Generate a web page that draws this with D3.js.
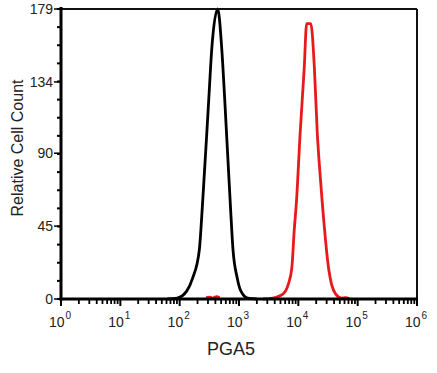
<!DOCTYPE html>
<html>
<head>
<meta charset="utf-8">
<script src="https://cdn.jsdelivr.net/npm/d3@7"></script>
<style>
	body { margin: 0; background: #fff; }
	text { font-family: "Liberation Sans", Arial, sans-serif; fill: #222; }
</style>
</head>
<body>
<svg id="chart" width="437" height="373"></svg>
<script>
// fluorescence intensity (PGA5) and relative cell count
var blackIntensity = [62, 91, 132, 166, 214, 245, 309, 347, 437, 513, 575, 708, 794, 933, 1072, 1413, 1995];
var blackCount     = [0, 0.6, 5, 13, 30, 61, 123, 154, 179, 154, 123, 61, 30, 13, 5, 0.5, 0];

var redIntensity = [2512, 3715, 5495, 6761, 7762, 8511, 9333, 10715, 12589, 13804, 16218, 18621, 20893, 22387, 25119, 32359, 36308, 42658, 53703, 61660, 74131];
var redCount     = [0, 0.6, 3, 9, 19, 42, 61, 102, 143, 170, 170, 143, 102, 85, 61, 19, 9, 3, 0.6, 0.8, 0];

// small red specks near the baseline under the black peak
var redNoiseIntensity = [280, 320, 360, 420, 470];
var redNoiseCount     = [0.8, 1.2, 0.6, 1.4, 0.8];

var yTickValues = [0, 45, 90, 134, 179];
var xDecades = [0, 1, 2, 3, 4, 5, 6];

var svg = d3.select("#chart");
var plotLeft = 61, plotRight = 417, plotTop = 9, plotBottom = 299;

var x = d3.scaleLog().domain([1, 1e6]).range([plotLeft, plotRight]);
var y = d3.scaleLinear().domain([0, 179]).range([plotBottom, plotTop]);

function curve(xs, ys, color) {
	var pts = xs.map((v, i) => [v, ys[i]]);
	var line = d3.line()
		.x(d => x(d[0]))
		.y(d => y(d[1]))
		.curve(d3.curveMonotoneX);
	svg.append("path")
		.attr("d", line(pts))
		.attr("fill", "none")
		.attr("stroke", color)
		.attr("stroke-width", 2.8)
		.attr("stroke-linejoin", "round");
}

curve(redNoiseIntensity, redNoiseCount, "#e8191b");
curve(blackIntensity, blackCount, "#000");
curve(redIntensity, redCount, "#e8191b");

// frame: top and right thinner
svg.append("line").attr("x1", plotLeft).attr("x2", plotRight).attr("y1", plotTop).attr("y2", plotTop)
	.attr("stroke", "#111").attr("stroke-width", 2);
svg.append("line").attr("x1", plotRight).attr("x2", plotRight).attr("y1", plotTop).attr("y2", plotBottom)
	.attr("stroke", "#111").attr("stroke-width", 2);

// y axis: ticks every 1/16 of the range, labels at quarters
var yMinor = d3.range(17).map(k => 179 * k / 16);
var yAxis = svg.append("g").attr("transform", "translate(" + plotLeft + ",0)");
yAxis.selectAll(".minor").data(yMinor).join("line")
	.attr("x1", -4).attr("x2", 0)
	.attr("y1", d => y(d)).attr("y2", d => y(d))
	.attr("stroke", "#000").attr("stroke-width", 2);
yAxis.selectAll(".major").data(yTickValues).join("line")
	.attr("x1", -7).attr("x2", 0)
	.attr("y1", d => y(d)).attr("y2", d => y(d))
	.attr("stroke", "#000").attr("stroke-width", 1.5);
yAxis.selectAll("text").data(yTickValues).join("text")
	.attr("x", -8).attr("y", d => y(d))
	.attr("dy", "0.36em")
	.attr("text-anchor", "end")
	.attr("font-size", 14)
	.text(d => d);
yAxis.append("line").attr("x1", 0).attr("x2", 0).attr("y1", plotTop - 2).attr("y2", plotBottom + 1.5)
	.attr("stroke", "#000").attr("stroke-width", 3);

// x axis: log ticks pointing down
var xMinor = [];
xDecades.slice(0, -1).forEach(function (e) {
	for (var m = 2; m <= 9; m++) xMinor.push(m * Math.pow(10, e));
});
var xAxis = svg.append("g").attr("transform", "translate(0," + plotBottom + ")");
xAxis.selectAll(".minor").data(xMinor).join("line")
	.attr("x1", d => x(d)).attr("x2", d => x(d))
	.attr("y1", 0).attr("y2", 5)
	.attr("stroke", "#000").attr("stroke-width", 1.8);
xAxis.selectAll(".major").data(xDecades).join("line")
	.attr("x1", d => x(Math.pow(10, d))).attr("x2", d => x(Math.pow(10, d)))
	.attr("y1", 0).attr("y2", 7)
	.attr("stroke", "#000").attr("stroke-width", 2);
xAxis.append("line").attr("x1", plotLeft - 1.5).attr("x2", plotRight + 1).attr("y1", 0).attr("y2", 0)
	.attr("stroke", "#000").attr("stroke-width", 3);

var xl = xAxis.selectAll("text").data(xDecades).join("text")
	.attr("x", d => x(Math.pow(10, d)) - 1)
	.attr("y", 28)
	.attr("text-anchor", "middle")
	.attr("font-size", 14);
xl.append("tspan").text("10");
xl.append("tspan").attr("dy", -8).attr("dx", 1).attr("font-size", 10).text(d => d);

// axis titles
svg.append("text")
	.attr("x", 231).attr("y", 355)
	.attr("text-anchor", "middle")
	.attr("font-size", 18)
	.text("PGA5");
svg.append("text")
	.attr("transform", "translate(23,148) rotate(-90)")
	.attr("text-anchor", "middle")
	.attr("font-size", 16)
	.text("Relative Cell Count");
</script>
</body>
</html>
